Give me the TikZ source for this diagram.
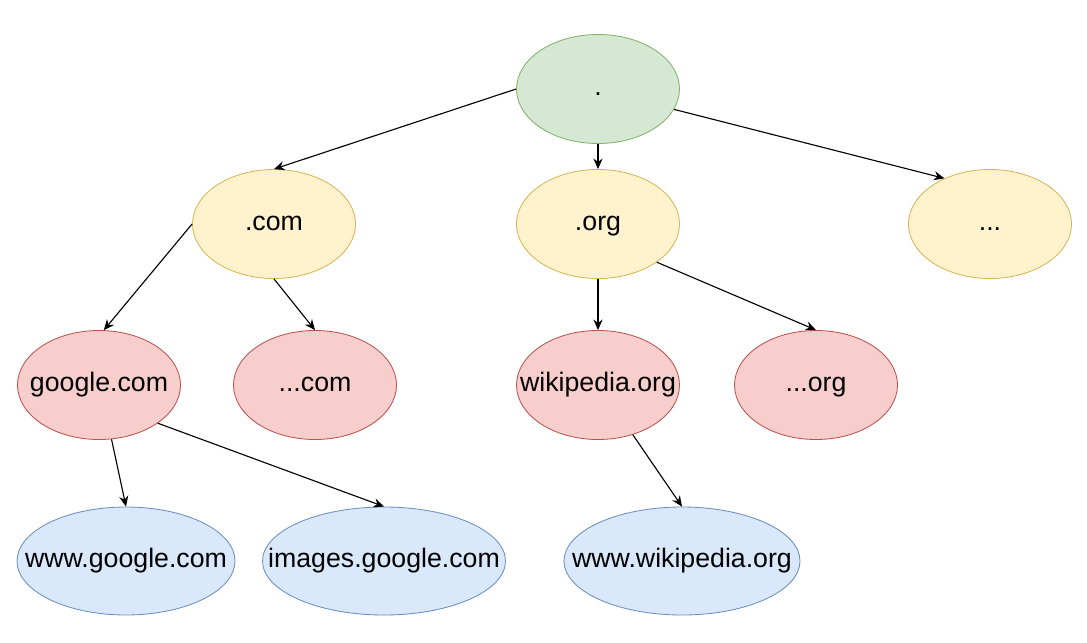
\documentclass[tikz,border=0pt]{standalone}
\usepackage{fontspec}
\setmainfont{Liberation Sans}
\usetikzlibrary{shapes.geometric,arrows.meta}
\definecolor{greenfill}{HTML}{D5E8D4}
\definecolor{greendraw}{HTML}{82B366}
\definecolor{yellowfill}{HTML}{FFF2CC}
\definecolor{yellowdraw}{HTML}{D6B656}
\definecolor{redfill}{HTML}{F8CECC}
\definecolor{reddraw}{HTML}{B85450}
\definecolor{bluefill}{HTML}{DAE8FC}
\definecolor{bluedraw}{HTML}{6C8EBF}
\tikzset{ lvl/.style = { ellipse % level node
        , draw
        , line width = 0.6pt
        , minimum width = 4.075cm
        , minimum height = 2.725cm
        , label = {[text height=1.2em, text depth=0.21em]center:#1}
        }
        }

\begin{document}
\begin{tikzpicture}[font=\fontsize{19}{23}\selectfont,
        root_style/.style={draw=greendraw,fill=greenfill},
        tld_style/.style={draw=yellowdraw,fill=yellowfill},
        domain_style/.style={draw=reddraw,fill=redfill},
        host_style/.style={draw=bluedraw,fill=bluefill,minimum height=2.7cm},
        edge_style/.style={draw=black, line width=0.8pt,-{Stealth[length=7.5pt,width=6.5pt]}}]
        \useasboundingbox (0,0) rectangle (27.175,-16.05);

        \node [lvl={.},root_style](root) at (14.95,-2.225) {};
        \node [lvl={.com},tld_style](com) at (6.85,-5.6) {};
        \node [lvl={.org},tld_style](org) at (14.95,-5.6) {};
        \node [lvl={...},tld_style](etc) at (24.75,-5.6) {};
        \node [lvl={google.com},domain_style](google) at (2.475,-9.625) {};
        \node [lvl={...com},domain_style](dotcom) at (7.875,-9.625) {};
        \node [lvl={wikipedia.org},domain_style](wiki) at (14.95,-9.625) {};
        \node [lvl={...org},domain_style](dotorg) at (20.4,-9.625) {};
        \node [lvl={www.google.com},host_style,minimum width=5.45cm](wwwgoogle) at (3.15,-14.025) {};
        \node [lvl={images.google.com},host_style,minimum width=6.075cm](images) at (9.6,-14.025) {};
        \node [lvl={www.wikipedia.org},host_style,minimum width=5.9cm](wwwwiki) at (17.05,-14.025) {};

        \draw [edge_style] (root.west) -- (com.north);
        \draw [edge_style] (root.south) -- (org.north);
        \draw [edge_style] (root.-15) -- (etc.135);
        \draw [edge_style] (com.west) -- (google.85);
        \draw [edge_style] (com.south) -- (dotcom.north);
        \draw [edge_style] (org.south) -- (wiki.north);
        \draw [edge_style] (org.-33) -- (dotorg.north);
        \draw [edge_style] (google.-77) -- (wwwgoogle.north);
        \draw [edge_style] (google.-33) -- (images.north);
        \draw [edge_style] (wiki.-55) -- (wwwwiki.north);

\end{tikzpicture}
\end{document}
